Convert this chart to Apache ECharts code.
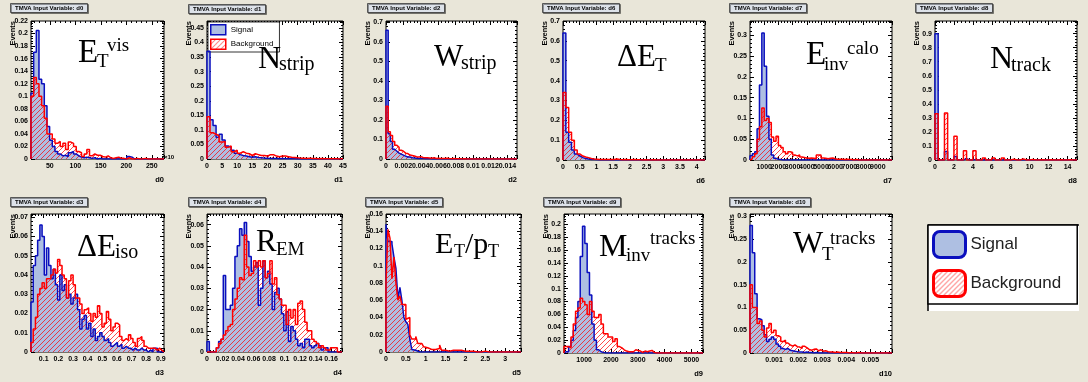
<!DOCTYPE html>
<html>
<head>
<meta charset="utf-8">
<script src="https://cdn.jsdelivr.net/npm/echarts@6/dist/echarts.min.js"></script>
<style>
html, body { margin: 0; padding: 0; background: #e9e6d9; }
#chart { width: 1088px; height: 382px; }
</style>
</head>
<body>
<div id="chart"></div>
<script>
// variable names, in panel order (top row, then bottom row)
const varNames = ['d0', 'd1', 'd2', 'd6', 'd7', 'd8', 'd3', 'd4', 'd5', 'd9', 'd10'];

// histogram contents (normalised), one value per bin
const d0Sig = [0.105,0.17,0.205,0.127,0.12,0.085,0.052,0.03,0.02,0.012,0.008,0.005,0.006,0.004,0.01,0.012,0.008,0.005,0.003,0.002,0.003,0.002,0.001,0.002,0,0.001,0,0,0,0,0,0,0,0,0,0,0.004,0.003,0,0,0,0,0,0,0,0,0,0,0,0];
const d0Bkg = [0.10,0.13,0.12,0.10,0.085,0.065,0.04,0.04,0.032,0.025,0.028,0.02,0.025,0.015,0.027,0.025,0.02,0.012,0.01,0.004,0.008,0.015,0.005,0.008,0.006,0.006,0.004,0.003,0.005,0.002,0.001,0.002,0.003,0.001,0.001,0,0.002,0,0,0.001,0,0,0.001,0,0,0,0,0,0,0];

const d1Sig = [0.37,0.135,0.115,0.075,0.085,0.065,0.045,0.04,0.03,0.02,0.015,0.012,0.01,0.008,0.006,0.008,0.005,0.004,0.003,0.003,0.002,0.002,0.002,0.001,0.002,0.001,0.001,0.001,0.001,0,0.001,0,0,0,0,0,0,0,0,0,0,0,0,0,0];
const d1Bkg = [0.145,0.09,0.085,0.08,0.058,0.06,0.04,0.045,0.025,0.03,0.02,0.025,0.02,0.018,0.012,0.018,0.015,0.012,0.012,0.01,0.015,0.015,0.01,0.008,0.01,0.01,0.008,0.006,0.005,0.004,0.003,0.003,0.002,0.003,0.002,0.002,0.001,0.002,0.001,0.001,0.001,0.001,0.001,0,0.001];

const d2Sig = [0.66,0.13,0.09,0.05,0.04,0.03,0.025,0.02,0.015,0.01,0.01,0.006,0.005,0.004,0.003,0.002,0.002,0.001,0.001,0.001,0,0,0,0,0,0,0,0,0,0,0,0,0,0,0,0,0,0,0,0,0,0,0,0,0,0,0,0,0,0,0,0,0,0,0,0,0,0,0,0];
const d2Bkg = [0.27,0.14,0.12,0.09,0.07,0.06,0.045,0.04,0.03,0.028,0.02,0.018,0.015,0.012,0.01,0.012,0.008,0.006,0.006,0.005,0.004,0.006,0.003,0.004,0.003,0.002,0.002,0.004,0.002,0.001,0.002,0.001,0.001,0.001,0,0.001,0,0,0,0,0,0,0,0,0,0,0,0,0,0,0,0,0,0,0,0,0,0,0,0];

const d6Sig = [0.64,0.14,0.09,0.05,0.03,0.02,0.012,0.008,0.005,0.003,0.002,0.001,0,0,0,0,0,0,0,0,0,0,0,0,0,0,0,0,0,0,0,0,0,0,0,0,0,0,0,0,0,0,0,0,0,0,0,0,0,0];
const d6Bkg = [0.34,0.265,0.14,0.10,0.05,0.03,0.02,0.015,0.012,0.008,0.005,0.004,0.003,0.003,0.002,0.002,0.002,0.003,0.005,0.002,0.001,0.002,0.001,0.001,0.002,0.001,0.001,0,0.001,0,0,0.001,0,0,0,0,0,0,0,0,0,0,0,0,0,0,0,0,0,0];

const d7Sig = [0.01,0.015,0.02,0.075,0.18,0.305,0.225,0.105,0.05,0.012,0.004,0.002,0.001,0,0,0,0,0,0,0,0,0,0,0,0,0,0,0,0,0,0,0,0,0,0,0,0,0,0,0,0,0,0,0,0,0,0,0,0,0,0,0,0,0,0,0,0,0,0,0];
const d7Bkg = [0.003,0.008,0.015,0.05,0.08,0.125,0.095,0.1,0.09,0.055,0.045,0.057,0.035,0.03,0.02,0.015,0.02,0.018,0.012,0.01,0.012,0.007,0.006,0.005,0.004,0.005,0.004,0.003,0.012,0.012,0.005,0.004,0.003,0.004,0.005,0.003,0.002,0.002,0.002,0.001,0.002,0.001,0.001,0,0.001,0,0,0,0,0,0,0,0,0,0,0,0,0,0,0];

const d8Sig = [0.9,0,0,0.06,0,0,0.025,0,0,0.01,0,0,0.004,0,0,0,0,0,0,0,0,0,0,0,0,0,0,0,0,0,0,0,0,0,0,0,0,0,0,0,0,0,0,0,0];
const d8Bkg = [0.33,0,0,0.335,0,0,0.17,0,0,0.065,0,0,0.065,0,0,0.015,0,0,0.015,0,0,0.015,0,0,0.005,0,0,0.008,0,0,0.003,0,0,0.002,0,0,0.002,0,0,0.001,0,0,0.001,0,0];

const d3Sig = [0.026,0.045,0.05,0.058,0.066,0.06,0.04,0.054,0.045,0.038,0.043,0.035,0.027,0.04,0.032,0.035,0.028,0.03,0.025,0.028,0.03,0.022,0.012,0.017,0.019,0.012,0.015,0.008,0.012,0.006,0.008,0.01,0.008,0.006,0.007,0.005,0.003,0.004,0.005,0.003,0.004,0.002,0.003,0.002,0.002,0.001,0.002,0.001,0.001,0.002,0.001,0.001,0,0.001,0,0.002,0.002,0,0,0];
const d3Bkg = [0.005,0.012,0.018,0.03,0.033,0.036,0.033,0.038,0.038,0.04,0.043,0.041,0.048,0.045,0.04,0.038,0.028,0.037,0.04,0.035,0.028,0.028,0.025,0.02,0.022,0.023,0.02,0.016,0.02,0.018,0.024,0.02,0.013,0.015,0.021,0.017,0.011,0.013,0.015,0.014,0.008,0.006,0.007,0.006,0.009,0.007,0.005,0.003,0.007,0.008,0.006,0.003,0.002,0.002,0.002,0.002,0.001,0.002,0.001,0];

const d4Sig = [0.005,0,0,0,0.002,0.005,0.006,0.036,0.02,0.02,0.022,0.03,0.045,0.05,0.058,0.055,0.061,0.052,0.045,0.038,0.04,0.042,0.022,0.03,0.043,0.035,0.038,0.032,0.02,0.028,0.03,0.025,0.018,0.01,0.019,0.005,0.012,0.01,0.006,0.003,0.004,0.002,0.006,0.006,0.003,0.002,0.003,0.004,0.003,0.001,0.002,0.002,0,0,0,0,0,0];
const d4Bkg = [0,0,0,0,0.002,0.004,0.006,0.008,0.01,0.012,0.013,0.02,0.025,0.03,0.035,0.034,0.055,0.04,0.036,0.037,0.043,0.04,0.043,0.04,0.043,0.035,0.037,0.043,0.032,0.035,0.027,0.025,0.022,0.022,0.013,0.02,0.016,0.02,0.013,0.023,0.024,0.02,0.014,0.01,0.01,0.006,0.005,0.004,0.002,0.003,0.002,0.001,0.001,0.002,0.002,0.002,0,0];

const d5Sig = [0.148,0.128,0.128,0.125,0.11,0.097,0.062,0.075,0.06,0.04,0.035,0.032,0.015,0.003,0.002,0.001,0,0,0,0,0,0,0,0,0,0,0,0,0,0,0,0,0,0,0,0,0,0,0,0,0,0,0,0,0,0,0,0,0,0,0,0,0,0,0,0,0,0,0,0,0,0,0,0,0,0,0,0];
const d5Bkg = [0.08,0.142,0.132,0.085,0.11,0.08,0.06,0.065,0.055,0.055,0.038,0.04,0.02,0.015,0.015,0.018,0.01,0.01,0.01,0.006,0.005,0.004,0.003,0.004,0.003,0.003,0.004,0.008,0.002,0.002,0.002,0.001,0.001,0.002,0.003,0.002,0.001,0.002,0.001,0.001,0.002,0.001,0.002,0.001,0.001,0,0.001,0,0,0.001,0,0,0,0,0,0,0,0,0,0,0,0,0,0,0,0,0,0];

const d9Sig = [0.002,0.002,0.01,0.02,0.035,0.055,0.08,0.15,0.197,0.17,0.125,0.09,0.045,0.02,0.005,0.002,0.001,0,0,0,0,0,0,0,0,0,0,0,0,0,0,0,0,0,0,0,0,0,0,0,0,0,0,0,0,0,0,0,0,0,0,0,0,0,0,0,0,0,0,0];
const d9Bkg = [0.01,0.01,0.008,0.025,0.045,0.065,0.07,0.085,0.08,0.075,0.06,0.08,0.065,0.055,0.055,0.06,0.045,0.03,0.03,0.025,0.025,0.018,0.022,0.01,0.008,0.005,0.003,0.002,0.002,0.002,0.005,0.004,0.003,0.001,0.003,0.002,0.003,0.004,0.001,0,0,0,0,0,0,0,0,0,0,0,0,0,0,0,0,0,0,0,0,0];

const d10Sig = [0.28,0.22,0.13,0.075,0.073,0.06,0.04,0.025,0.03,0.035,0.03,0.02,0.015,0.01,0.008,0.01,0.006,0.005,0.004,0.003,0.002,0.002,0.001,0.002,0.001,0.001,0,0.001,0,0,0,0,0,0,0,0,0,0,0,0,0,0,0,0,0,0,0,0,0,0,0,0,0,0,0,0,0,0,0,0];
const d10Bkg = [0.15,0.1,0.1,0.065,0.07,0.05,0.035,0.055,0.065,0.045,0.05,0.038,0.035,0.025,0.028,0.022,0.018,0.015,0.018,0.014,0.013,0.01,0.015,0.012,0.008,0.006,0.008,0.009,0.005,0.007,0.004,0.005,0.003,0.002,0.002,0.001,0.002,0.001,0.001,0.001,0.001,0,0.001,0,0,0.001,0,0,0,0,0,0,0,0,0,0,0,0,0,0];

const signals = [d0Sig, d1Sig, d2Sig, d6Sig, d7Sig, d8Sig, d3Sig, d4Sig, d5Sig, d9Sig, d10Sig];
const backgrounds = [d0Bkg, d1Bkg, d2Bkg, d6Bkg, d7Bkg, d8Bkg, d3Bkg, d4Bkg, d5Bkg, d9Bkg, d10Bkg];

// axis ranges (histogram range = x axis range) and tick steps
const xRanges = [[13, 274], [0, 45], [0, 0.0151], [0, 4.25], [0, 10000], [0, 15], [0.013, 0.922], [0, 0.174], [0, 3.4], [250, 5430], [0, 0.0059]];
const xSteps = [50, 5, 0.002, 0.5, 1000, 2, 0.1, 0.02, 0.5, 1000, 0.001];
const xShowMin = [false, true, true, true, false, true, false, true, true, false, false];
const xShowMax = [false, true, false, false, false, false, false, false, false, false, false];
const yMaxes = [0.22, 0.474, 0.708, 0.70, 0.334, 0.99, 0.0717, 0.065, 0.16, 0.216, 0.305];
const ySteps = [0.02, 0.05, 0.1, 0.1, 0.05, 0.1, 0.01, 0.01, 0.02, 0.02, 0.05];

// plot frames: left, top, width, height
const boxes = [
  [31, 21, 133, 138], [207, 21, 136, 138], [386, 21, 131, 138], [563, 21, 142, 139], [750, 21, 142, 139], [935, 21, 142, 139],
  [31, 214, 133, 138], [207, 214, 135, 138], [386, 214, 135, 138], [564, 214, 139, 139], [750, 214, 142, 139]
];
const titlePos = [[10, 3], [188, 4], [367, 3], [542, 3], [729, 3], [915, 3], [10, 197], [188, 197], [365, 197], [543, 197], [729, 197]];

// big variable labels: [text, x, baseline, font size]
const formulas = [
  [['E', 78, 65, 33], ['T', 97, 68, 19], ['vis', 107, 52, 19]],
  [['N', 258, 70, 32], ['strip', 279, 72, 20]],
  [['W', 434, 68, 31], ['strip', 461, 71, 20]],
  [['\u0394E', 617, 68, 31], ['T', 655, 72, 19]],
  [['E', 806, 67, 33], ['inv', 824, 71, 19], ['calo', 847, 55, 19]],
  [['N', 990, 70, 32], ['track', 1011, 73, 20]],
  [['\u0394E', 77, 258, 31], ['iso', 115, 260, 20]],
  [['R', 256, 253, 31], ['EM', 276, 256, 19]],
  [['E', 435, 255, 30], ['T', 454, 258, 18], ['/p', 465, 255, 30], ['T', 488, 258, 18]],
  [['M', 599, 258, 32], ['inv', 626, 262, 19], ['tracks', 650, 245, 19]],
  [['W', 793, 255, 32], ['T', 822, 261, 19], ['tracks', 830, 245, 19]]
];

const sigFill = '#aebfe2';
const sigLine = '#0a0fbe';
const bkgLine = '#ff0000';
const sans = '"Liberation Sans", Arial, sans-serif';

// red hatch pattern for the background histograms
const hatchCanvas = document.createElement('canvas');
hatchCanvas.width = 5;
hatchCanvas.height = 5;
const hc = hatchCanvas.getContext('2d');
hc.strokeStyle = 'rgba(255,0,0,0.7)';
hc.lineWidth = 1;
hc.beginPath();
hc.moveTo(0, 5); hc.lineTo(5, 0);
hc.moveTo(-1, 1); hc.lineTo(1, -1);
hc.moveTo(4, 6); hc.lineTo(6, 4);
hc.stroke();
const hatch = { image: hatchCanvas, repeat: 'repeat' };

// histogram -> step outline points
function steps(range, vals) {
  const lo = range[0], w = (range[1] - range[0]) / vals.length;
  const pts = [[lo, 0]];
  vals.forEach((v, i) => pts.push([lo + i * w, v]));
  pts.push([range[1], 0]);
  return pts;
}

const grids = [], xAxes = [], yAxes = [], titles = [], series = [], graphics = [];
const tickLabel = { fontSize: 7, fontWeight: 'bold', color: '#000', fontFamily: sans, formatter: v => String(v) };

boxes.forEach(([l, t, w, h], k) => {
  grids.push({ left: l, top: t, width: w, height: h, show: true, backgroundColor: '#fff', borderColor: '#000', borderWidth: 1, outerBoundsMode: 'none' });
  const common = {
    type: 'value', gridIndex: k, splitLine: { show: false },
    axisLine: { show: false, onZero: false },
    axisTick: { show: true, inside: true, length: 4, lineStyle: { color: '#000' } },
    minorTick: { show: true, splitNumber: 5, length: 2, lineStyle: { color: '#000' } }
  };
  const xr = xRanges[k];
  const xa = Object.assign({}, common, { min: xr[0], max: xr[1], minInterval: xSteps[k], maxInterval: xSteps[k] });
  xAxes.push(Object.assign({}, xa, {
    position: 'bottom', name: varNames[k], nameLocation: 'end', nameGap: 0,
    nameTextStyle: { align: 'right', verticalAlign: 'top', padding: [17, 0, 0, 0], fontSize: 7.5, fontWeight: 'bold', color: '#000', fontFamily: sans },
    axisLabel: Object.assign({}, tickLabel, { margin: 4, showMinLabel: xShowMin[k], showMaxLabel: xShowMax[k] })
  }));
  xAxes.push(Object.assign({}, xa, { position: 'top', axisLabel: { show: false } }));
  const onTick = Math.abs(yMaxes[k] / ySteps[k] - Math.round(yMaxes[k] / ySteps[k])) < 1e-6;
  const ya = Object.assign({}, common, { min: 0, max: yMaxes[k], minInterval: ySteps[k], maxInterval: ySteps[k] });
  yAxes.push(Object.assign({}, ya, {
    position: 'left',
    axisLabel: Object.assign({}, tickLabel, { margin: 3, showMaxLabel: onTick })
  }));
  yAxes.push(Object.assign({}, ya, { position: 'right', axisLabel: { show: false } }));

  titles.push({
    text: 'TMVA Input Variable: ' + varNames[k], left: titlePos[k][0], top: titlePos[k][1],
    padding: [2, 5], backgroundColor: '#dde2e9', borderColor: '#333', borderWidth: 0.8,
    shadowColor: 'rgba(0,0,0,0.45)', shadowOffsetX: 1, shadowOffsetY: 1,
    textStyle: { fontSize: 6, fontWeight: 'bold', color: '#000', fontFamily: sans }
  });

  const ps = steps(xr, signals[k]);
  const pb = steps(xr, backgrounds[k]);
  const base = { type: 'line', xAxisIndex: 2 * k, yAxisIndex: 2 * k, step: 'end', symbol: 'none', silent: true };
  series.push(
    Object.assign({}, base, { name: 'Signal', data: ps, z: 2, lineStyle: { width: 0, opacity: 0 }, itemStyle: { color: sigFill }, areaStyle: { color: sigFill, opacity: 1 } }),
    Object.assign({}, base, { name: 'Background', data: pb, z: 3, lineStyle: { width: 0, opacity: 0 }, itemStyle: { color: '#f77' }, areaStyle: { color: hatch, opacity: 1 } }),
    Object.assign({}, base, { name: 'sigOutline', data: ps, z: 4, lineStyle: { color: sigLine, width: 1.5 } }),
    Object.assign({}, base, { name: 'bkgOutline', data: pb, z: 5, lineStyle: { color: bkgLine, width: 1.5 } })
  );

  // "Events" y title, rotated
  graphics.push({
    type: 'text', x: l - 18, y: t, rotation: Math.PI / 2, z: 10,
    style: { text: 'Events', align: 'right', verticalAlign: 'middle', font: 'bold 7.5px ' + sans, fill: '#000' }
  });
  // big variable label
  formulas[k].forEach(([txt, x, base, size]) => {
    graphics.push({
      type: 'text', x: x, y: base - 0.34 * size, z: 10,
      style: { text: txt, align: 'left', verticalAlign: 'middle', font: size + 'px "Liberation Serif", "Times New Roman", serif', fill: '#000' }
    });
  });
});

graphics.push({ type: 'text', x: 164, y: 160, z: 10, style: { text: '\u00d710', align: 'left', verticalAlign: 'bottom', font: 'bold 6px ' + sans, fill: '#000' } });

// magnified legend box, bottom right
graphics.push({ type: 'rect', shape: { x: 928, y: 225, width: 151, height: 86 }, style: { fill: '#fff' }, z: 1 });
graphics.push({ type: 'line', shape: { x1: 928, y1: 225, x2: 1079, y2: 225 }, style: { stroke: '#000', lineWidth: 1.5 }, z: 2 });
graphics.push({ type: 'line', shape: { x1: 928, y1: 225, x2: 928, y2: 311 }, style: { stroke: '#000', lineWidth: 1.5 }, z: 2 });
for (let i = 0; i <= 21; i++) {
  const x = 934.7 + 6.7 * i;
  const len = (i - 9) % 5 === 0 ? 7 : 3;
  graphics.push({ type: 'line', shape: { x1: x, y1: 225, x2: x, y2: 225 + len }, style: { stroke: '#000', lineWidth: 1.2 }, z: 2 });
}
for (let i = 0; i <= 8; i++) {
  const y = 235 + 8.3 * i;
  graphics.push({ type: 'line', shape: { x1: 928, y1: y, x2: 932, y2: y }, style: { stroke: '#000', lineWidth: 1.2 }, z: 2 });
}

const chart = echarts.init(document.getElementById('chart'));
chart.setOption({
  animation: false,
  backgroundColor: '#e9e6d9',
  title: titles,
  grid: grids,
  xAxis: xAxes,
  yAxis: yAxes,
  legend: [
    {
      left: 208, top: 22, orient: 'vertical', selectedMode: false,
      itemWidth: 15, itemHeight: 10, itemGap: 3, padding: [2, 6, 2, 2],
      backgroundColor: '#fff', borderColor: '#000', borderWidth: 0.8,
      textStyle: { fontSize: 8, color: '#000', fontFamily: sans },
      data: [
        { name: 'Signal', icon: 'rect', itemStyle: { color: sigFill, borderColor: sigLine, borderWidth: 1.5 } },
        { name: 'Background', icon: 'rect', itemStyle: { color: hatch, borderColor: bkgLine, borderWidth: 1.5 } }
      ]
    },
    {
      left: 928, top: 225, orient: 'vertical', selectedMode: false, z: 5,
      itemWidth: 32, itemHeight: 26, itemGap: 10, padding: [5, 16, 6, 4],
      backgroundColor: '#fff', borderColor: '#000', borderWidth: 1.5,
      textStyle: { fontSize: 17, color: '#222', fontFamily: sans },
      data: [
        { name: 'Signal', icon: 'roundRect', itemStyle: { color: sigFill, borderColor: sigLine, borderWidth: 3 } },
        { name: 'Background', icon: 'roundRect', itemStyle: { color: hatch, borderColor: bkgLine, borderWidth: 3 } }
      ]
    }
  ],
  graphic: graphics,
  series: series
});
</script>
</body>
</html>
